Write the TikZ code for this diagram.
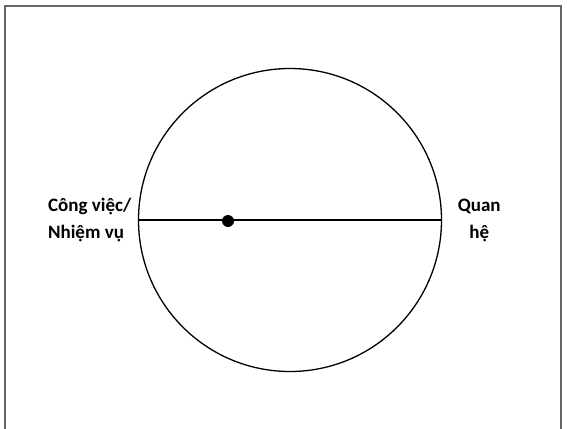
\documentclass[tikz,border=0pt]{standalone}
\usepackage{fontspec}
\setmainfont{Carlito}
\usetikzlibrary{positioning}

\begin{document}
\begin{tikzpicture}[x=1pt,y=-1pt,node distance=6pt,line width=1.3pt]
  \tikzstyle{every node}=[font=\fontsize{19}{27}\selectfont\bfseries, inner sep=0pt]
  \tikzstyle{ring}=[circle, draw, minimum size=303pt]
  \useasboundingbox (0,0) rectangle (567,428);
  \draw[gray!80!black, line width=1.2pt] (5,432) -- (5,6) -- (561,6) -- (561,432);
  \node[ring] (c) at (290,220) {};
  \node[circle, fill, minimum size=12pt] (d) at (228,221) {};
  \draw (c.west) -- (c.east);
  \node[align=left, left=6pt of c.west] (task) {Công việc/\\Nhiệm vụ};
  \node[align=center, right=15pt of c.east] (rel) {Quan\\hệ};
\end{tikzpicture}
\end{document}
